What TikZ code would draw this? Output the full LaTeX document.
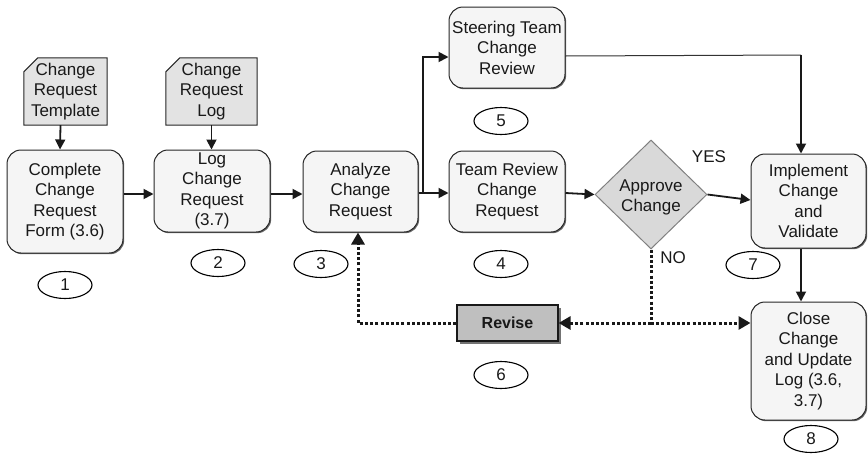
\documentclass[tikz,border=0pt]{standalone}
\usepackage{fontspec}
\setmainfont{Liberation Sans}
\usetikzlibrary{arrows.meta,shapes.geometric,shadows,backgrounds,calc}
\tikzset{
  every node/.style={font=\fontsize{17}{20.5}\selectfont, text=black!90},
  proc/.style={draw=black!85, line width=1pt, rounded corners=14pt, fill=black!4,
    align=center, inner sep=0pt,
    drop shadow={shadow xshift=1.2pt, shadow yshift=-1.2pt, fill=black!60, opacity=1}},
  docnode/.style={align=center, inner sep=0pt},
  docshape/.style={draw=black!85, line width=1pt, fill=black!11},
  decide/.style={diamond, draw=black!50, line width=1pt, fill=black!15, align=center, inner sep=0pt, aspect=1.03},
  revbox/.style={draw=black!90, line width=1.2pt, fill=black!25, inner sep=0pt,
    font=\fontsize{16}{19}\selectfont\bfseries,
    drop shadow={shadow xshift=2.5pt, shadow yshift=-2.5pt, fill=black!55, opacity=1}},
  num/.style={ellipse, draw=black, line width=1.1pt, minimum width=54pt, minimum height=27pt, inner sep=0pt,
    font=\fontsize{17}{20}\selectfont},
  arr/.style={line width=1.8pt, draw=black!90, -{Triangle[length=10pt,width=10pt]}},
  dotarr/.style={line width=3pt, draw=black!90, dash pattern=on 3pt off 2.2pt,
    -{Triangle[length=12pt,width=13pt]}},
  dotline/.style={line width=3pt, draw=black!90, dash pattern=on 3pt off 2.2pt},
}
\begin{document}
\begin{tikzpicture}[x=1pt,y=-1pt]
\useasboundingbox (0,0) rectangle (868,456);

% documents
\node[docnode, minimum width=83pt, minimum height=67pt] (tmpl) at (65.5,91.5) {Change\\Request\\Template};
\node[docnode, minimum width=91pt, minimum height=67pt] (logd) at (211.5,91.5) {Change\\Request\\Log};
\begin{pgfonlayer}{background}
\draw[docshape] (tmpl.south west) -- (tmpl.south east) -- (tmpl.north east) -- ([xshift=14pt]tmpl.north west) -- ([yshift=-14pt]tmpl.north west) -- cycle;
\draw[docshape] (logd.south west) -- (logd.south east) -- (logd.north east) -- ([xshift=14pt]logd.north west) -- ([yshift=-14pt]logd.north west) -- cycle;
\end{pgfonlayer}

% process boxes
\node[proc, minimum width=116pt, minimum height=103pt] (b1) at (65,201.5) {Complete\\Change\\Request\\Form (3.6)};
\node[proc, minimum width=116pt, minimum height=82pt] (b2) at (212,191) {Log\\Change\\Request\\(3.7)};
\node[proc, minimum width=115pt, minimum height=81pt] (b3) at (360.5,191.5) {Analyze\\Change\\Request};
\node[proc, minimum width=116pt, minimum height=81pt] (b4) at (507,191.5) {Team Review\\Change\\Request};
\node[proc, minimum width=116pt, minimum height=81pt] (b5) at (507,47.5) {Steering Team\\Change\\Review};
\node[decide, minimum width=112pt, minimum height=109pt] (dia) at (651,194.5) {};
\node[align=center] at (651,197.5) (diat) {Approve\\[-1pt]Change};
\node[proc, minimum width=115pt, minimum height=94pt] (b7) at (808.5,201) {Implement\\Change\\and\\Validate};
\node[proc, minimum width=115pt, minimum height=118pt] (b8) at (808.5,361) {Close\\Change\\and Update\\Log (3.6,\\3.7)};
\node[revbox, minimum width=101pt, minimum height=36pt] (rev) at (507.5,323) {Revise};

% labels
\node (yes) at (709,157) {YES};
\node (no) at (673,258) {NO};

% numbers
\node[num] (n1) at (65,285) {1};
\node[num] (n2) at (218,263) {2};
\node[num] (n3) at (321,264) {3};
\node[num] (n4) at (501,264) {4};
\node[num] (n5) at (501,121) {5};
\node[num] (n6) at (501,375) {6};
\node[num] (n7) at (753,265) {7};
\node[num] (n8) at (811,439) {8};

% coordinates
\coordinate (br) at (423,193);
\coordinate (br2) at (423,57);
\coordinate (s0) at (565,56);
\coordinate (c1) at (801,55);
\coordinate (c2) at (651,323);
\coordinate (c3) at (358,323);

% connectors
\draw[arr] ([xshift=-5pt]tmpl.south) -- ([xshift=-5pt]b1.north);
\draw[arr] (logd.south) -- (logd.south |- b2.north);
\draw[arr] ([yshift=7.5pt]b1.east) -- ([yshift=-3pt]b2.west);
\draw[arr] ([yshift=-3pt]b2.east) -- ([yshift=-2.5pt]b3.west);
\draw[arr] (b3.east |- br) -- (b4.west |- br);
\draw[arr] (br) -- (br2) -- (b5.west |- br2);
\draw[arr] (b4.east |- br) -- (dia.west);
\draw[arr] (dia.east) -- ([yshift=1pt]b7.west);
\draw[line width=1pt, draw=black!80] (s0) -- (c1);
\draw[arr] (c1) -- (c1 |- b7.north);
\draw[arr] (c1 |- b7.south) -- (c1 |- b8.north);
\draw[dotline] (dia.south) -- (c2);
\draw[dotarr] (c2) -- (c2 -| b8.west);
\draw[dotarr] (c2) -- (rev.east);
\draw[dotarr] (rev.west) -- (c3) -- (c3 |- b3.south);
\end{tikzpicture}
\end{document}
